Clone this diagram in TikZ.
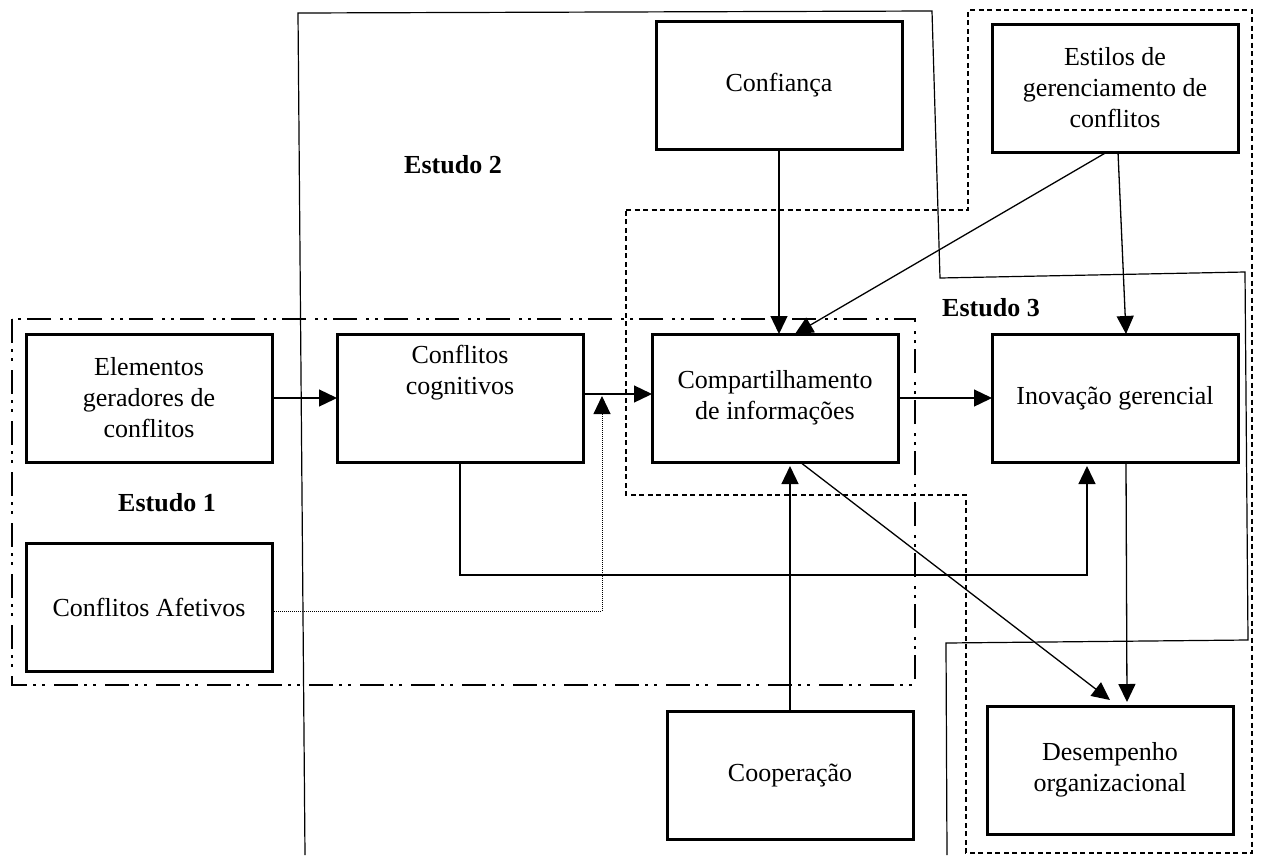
\documentclass[tikz,border=0pt]{standalone}
\usepackage{fontspec}
\setmainfont{Liberation Serif}
\usetikzlibrary{arrows.meta}
\begin{document}
\begin{tikzpicture}[x=1pt,y=-1pt,
  box/.style={draw, line width=3pt, minimum width=246pt, minimum height=128pt,
    inner sep=0pt, outer sep=0pt, align=center, font=\fontsize{26}{31}\selectfont},
  txt/.style={align=center, inner sep=0pt, font=\fontsize{26}{31}\selectfont},
  lbl/.style={inner sep=0pt, font=\fontsize{26}{31}\selectfont\bfseries},
  arr/.style={line width=1.3pt, -{Triangle[length=18pt,width=17pt]}},
  dotarr/.style={line width=1pt, dash pattern=on 1pt off 1pt, -{Triangle[length=18pt,width=17pt]}},
  region/.style={line width=1.2pt},
  dashreg/.style={line width=1.1pt, dash pattern=on 5pt off 3.5pt},
  dashdotreg/.style={line width=2.6pt, dash pattern=on 24pt off 6pt on 3pt off 6pt on 3pt off 9pt}]
\useasboundingbox (0,0) rectangle (1262,855);

% Study boundaries
\draw[dashdotreg] (12,319) rectangle (915,685);
\draw[dashreg] (626,210) -- (968,210) -- (968,10) -- (1252,10) -- (1252,853)
  -- (966,853) -- (966,495) -- (626,495) -- cycle;
\draw[region] (305,855) -- (298,13) -- (932,11) -- (940,278) -- (1245,272)
  -- (1248,640) -- (946,643) -- (947,855);

% Constructs
\node[box] (elem) at (149,398) {Elementos\\geradores de\\conflitos};
\node[box] (cog) at (460,398) {};
\node[txt] (cogt) at (460,373) {Conflitos\\cognitivos};
\node[box] (comp) at (775,398) {Compartilhamento\\de informações};
\node[box] (inov) at (1115,398) {Inovação gerencial};
\node[box] (conf) at (779,85) {Confiança};
\node[box] (est) at (1115,88) {Estilos de\\gerenciamento de\\conflitos};
\node[box] (afet) at (149,607) {Conflitos Afetivos};
\node[box] (coop) at (790,775) {Cooperação};
\node[box] (desemp) at (1110,770) {Desempenho\\organizacional};

% Study labels
\node[lbl] (s1) at (167,503) {Estudo 1};
\node[lbl] (s2) at (453,165) {Estudo 2};
\node[lbl] (s3) at (991,308) {Estudo 3};

% Relations
\coordinate (junc) at (602,396);
\draw[arr] (elem.east) -- (cog.west);
\draw[arr] ([yshift=4pt]cog.east) -- ([yshift=4pt]comp.west);
\draw[dotarr] ([yshift=-4pt]afet.east) -| (junc);
\draw[arr] (comp.east) -- (inov.west);
\draw[arr] (conf.south) -- (conf.south |- comp.north);
\draw[arr] ([xshift=-8pt]est.south) -- ([xshift=20pt]comp.north);
\draw[arr] ([xshift=3pt]est.south) -- ([xshift=11pt]inov.north);
\draw[arr] (coop.north) -- ([yshift=-4pt]coop.north |- comp.south);
\draw[arr] ([xshift=25pt]comp.south) -- ([yshift=6pt]desemp.north);
\draw[arr] ([xshift=11pt]inov.south) -- ([xshift=17pt,yshift=4pt]desemp.north);
\draw[arr] (cog.south) -- ++(0,113) -| ([xshift=-28pt,yshift=-4pt]inov.south);
\end{tikzpicture}
\end{document}
